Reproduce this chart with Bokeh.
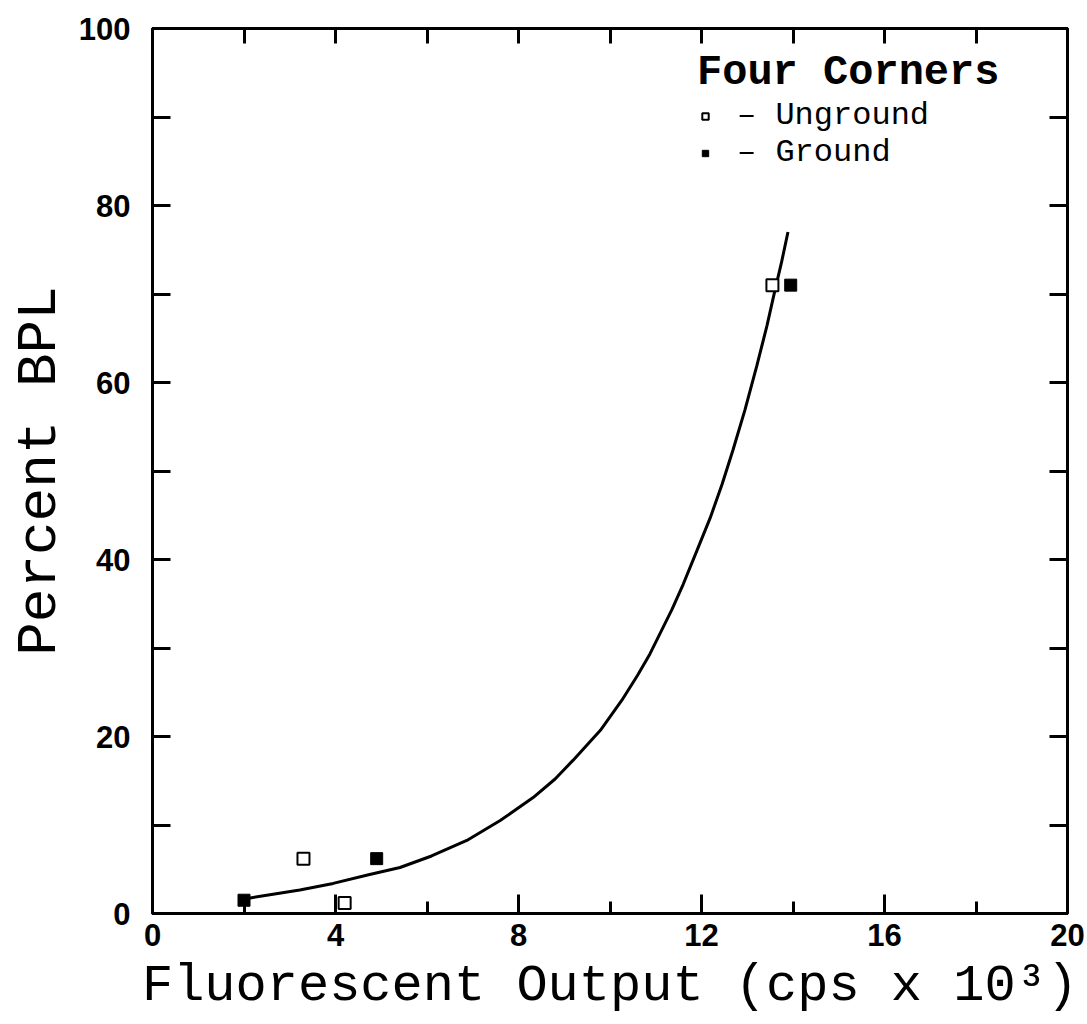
from bokeh.plotting import figure
from bokeh.models import (LinearAxis, FixedTicker, Range1d, Legend, LegendItem)
from bokeh.embed import file_html
from bokeh.resources import INLINE

# ---- data ----
unground_x = [3.3, 4.2, 13.55]
unground_y = [6.2, 1.2, 71.0]
ground_x = [2.0, 4.9, 13.95]
ground_y = [1.5, 6.2, 71.0]

curve_x = [2.07, 2.6, 3.22, 3.95, 4.7, 5.41, 6.1, 6.87, 7.6, 8.32, 8.8, 9.19, 9.79,
           10.26, 10.6, 10.87, 11.09, 11.35, 11.6, 11.9, 12.19, 12.45, 12.69, 12.95,
           13.21, 13.43, 13.6, 13.75, 13.89]
curve_y = [1.7, 2.15, 2.65, 3.4, 4.35, 5.2, 6.5, 8.25, 10.5, 13.1, 15.2, 17.3, 20.7,
           24.1, 26.9, 29.3, 31.6, 34.3, 37.2, 41.0, 44.7, 48.5, 52.4, 56.9,
           61.9, 66.4, 70.3, 73.6, 77.0]

x_major = [0, 4, 8, 12, 16, 20]
x_minor = [2, 6, 10, 14, 18]
x_top = [2, 4, 6, 8, 10, 12, 14, 16, 18]
y_major = [0, 20, 40, 60, 80, 100]
y_minor = [10, 30, 50, 70, 90]
y_right = [10, 20, 30, 40, 50, 60, 70, 80, 90]

x_label = "Fluorescent Output (cps x 10\u00b3)"
y_label = "Percent BPL"
legend_title = "Four Corners"
unground_label = "\u2013 Unground"
ground_label = "\u2013 Ground"

TICK_FONT = "Liberation Sans"
LABEL_FONT = "Liberation Mono"

p = figure(width=1087, height=1024, output_backend="svg", toolbar_location=None,
           x_range=Range1d(0, 20), y_range=Range1d(0, 100),
           x_axis_label=x_label, y_axis_label=y_label,
           min_border_left=152, min_border_right=20, min_border_top=28,
           min_border_bottom=111)
p.grid.visible = False
p.outline_line_color = "black"
p.outline_line_width = 3
p.background_fill_color = "white"
p.border_fill_color = "white"

# bottom axis
xa = p.xaxis[0]
xa.ticker = FixedTicker(ticks=x_major, minor_ticks=x_minor)
xa.major_tick_in = 19
xa.major_tick_out = 0
xa.minor_tick_in = 12
xa.minor_tick_out = 0
xa.major_tick_line_width = 3
xa.minor_tick_line_width = 3
xa.axis_line_width = 3
xa.major_label_standoff = 10
xa.major_label_text_font = TICK_FONT
xa.major_label_text_font_style = "bold"
xa.major_label_text_font_size = "31px"
xa.major_label_text_color = "black"
xa.axis_label_text_font = LABEL_FONT
xa.axis_label_text_font_style = "normal"
xa.axis_label_text_font_size = "52px"
xa.axis_label_text_color = "black"
xa.axis_label_standoff = 8

# left axis
ya = p.yaxis[0]
ya.ticker = FixedTicker(ticks=y_major, minor_ticks=y_minor)
ya.major_tick_in = 18
ya.major_tick_out = 0
ya.minor_tick_in = 18
ya.minor_tick_out = 0
ya.major_tick_line_width = 3
ya.minor_tick_line_width = 3
ya.axis_line_width = 3
ya.major_label_standoff = 22
ya.major_label_text_font = TICK_FONT
ya.major_label_text_font_style = "bold"
ya.major_label_text_font_size = "31px"
ya.major_label_text_color = "black"
ya.axis_label_text_font = LABEL_FONT
ya.axis_label_text_font_style = "normal"
ya.axis_label_text_font_size = "56px"
ya.axis_label_text_color = "black"
ya.axis_label_standoff = 4

# right axis (ticks only)
ra = LinearAxis(ticker=FixedTicker(ticks=[], minor_ticks=y_right))
ra.minor_tick_in = 18
ra.minor_tick_out = 0
ra.minor_tick_line_width = 3
ra.axis_line_width = 3
p.add_layout(ra, "right")

# top axis (ticks only)
ta = LinearAxis(ticker=FixedTicker(ticks=[], minor_ticks=x_top))
ta.minor_tick_in = 15
ta.minor_tick_out = 0
ta.minor_tick_line_width = 3
ta.axis_line_width = 3
p.add_layout(ta, "above")

# curve
p.line(curve_x, curve_y, line_color="black", line_width=3)

# points
r_un = p.scatter(unground_x, unground_y, marker="square", size=12,
                 fill_color="white", line_color="black", line_width=2)
r_gr = p.scatter(ground_x, ground_y, marker="square", size=12,
                 fill_color="black", line_color="black", line_width=1)

legend = Legend(items=[LegendItem(label=unground_label, renderers=[r_un]),
                       LegendItem(label=ground_label, renderers=[r_gr])],
                location=(545, 742), title=legend_title,
                title_text_font=LABEL_FONT, title_text_font_style="bold",
                title_text_font_size="42px", title_text_color="black",
                title_standoff=0,
                label_text_font=LABEL_FONT, label_text_font_size="32px",
                label_text_font_style="normal", label_text_color="black",
                glyph_width=16, glyph_height=20, label_height=20,
                label_standoff=24, spacing=0, padding=0, margin=0,
                border_line_color=None, background_fill_alpha=0)
p.add_layout(legend, "center")

open("out.html", "w").write(file_html(p, INLINE))
